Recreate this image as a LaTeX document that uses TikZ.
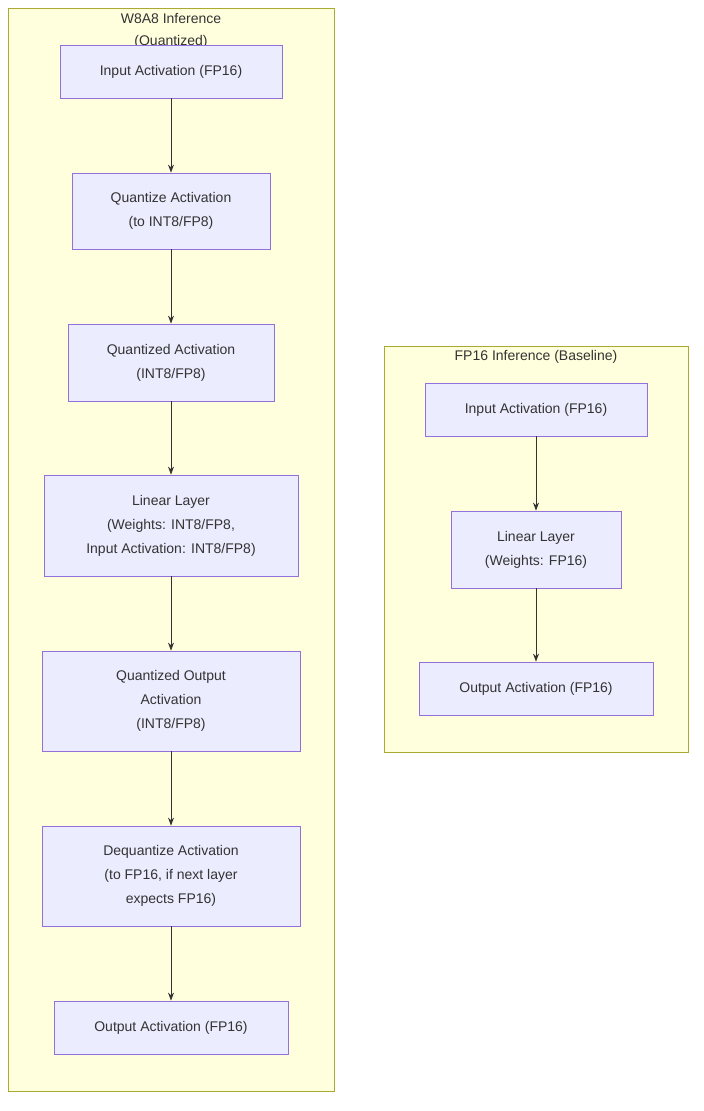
\documentclass[tikz,border=0pt]{standalone}
\usepackage{fontspec}
\setmainfont{Liberation Sans}
\usetikzlibrary{arrows.meta}
\definecolor{nfill}{HTML}{ECECFF}
\definecolor{nline}{HTML}{9370DB}
\definecolor{cfill}{HTML}{FFFFDE}
\definecolor{cline}{HTML}{AAAA33}
\definecolor{ed}{HTML}{333333}
\begin{document}
\begin{tikzpicture}[x=1pt,y=-1pt,
  box/.style={draw=nline,fill=nfill,line width=0.8pt,align=center,inner sep=0pt,font=\fontsize{14}{24}\selectfont,text=ed},
  clu/.style={draw=cline,fill=cfill,line width=0.8pt},
  ar/.style={draw=ed,line width=0.9pt,-{Stealth[length=8pt,width=6pt]}}]
\useasboundingbox (0,0) rectangle (704,1111);
\draw[clu] (8,8) rectangle (334,1091);
\draw[clu] (384,346) rectangle (688,752);
\node[font=\fontsize{14}{22}\selectfont,align=center,text=ed] (t1) at (171,31) {W8A8 Inference\\(Quantized)};
\node[font=\fontsize{14}{22}\selectfont,text=ed] (t2) at (536,357) {FP16 Inference (Baseline)};
\node[box,minimum width=222,minimum height=53] (n1) at (171,71.5) {Input Activation (FP16)};
\node[box,minimum width=198,minimum height=76] (n2) at (171,211) {Quantize Activation\\(to INT8/FP8)};
\node[box,minimum width=206,minimum height=77] (n3) at (171,362.5) {Quantized Activation\\(INT8/FP8)};
\node[box,minimum width=254,minimum height=101] (n4) at (171,525.5) {Linear Layer\\(Weights: INT8/FP8,\\Input Activation: INT8/FP8)};
\node[box,minimum width=258,minimum height=100] (n5) at (171,701) {Quantized Output\\Activation\\(INT8/FP8)};
\node[box,minimum width=258,minimum height=100] (n6) at (171,876) {Dequantize Activation\\(to FP16, if next layer\\expects FP16)};
\node[box,minimum width=234,minimum height=53] (n7) at (171,1027.5) {Output Activation (FP16)};
\node[box,minimum width=222,minimum height=53] (a) at (536,409.5) {Input Activation (FP16)};
\node[box,minimum width=170,minimum height=77] (b) at (536,549.5) {Linear Layer\\(Weights: FP16)};
\node[box,minimum width=234,minimum height=53] (c) at (536,688.5) {Output Activation (FP16)};
\draw[ar] (n1) -- (n2);
\draw[ar] (n2) -- (n3);
\draw[ar] (n3) -- (n4);
\draw[ar] (n4) -- (n5);
\draw[ar] (n5) -- (n6);
\draw[ar] (n6) -- (n7);
\draw[ar] (a) -- (b);
\draw[ar] (b) -- (c);
\end{tikzpicture}
\end{document}
